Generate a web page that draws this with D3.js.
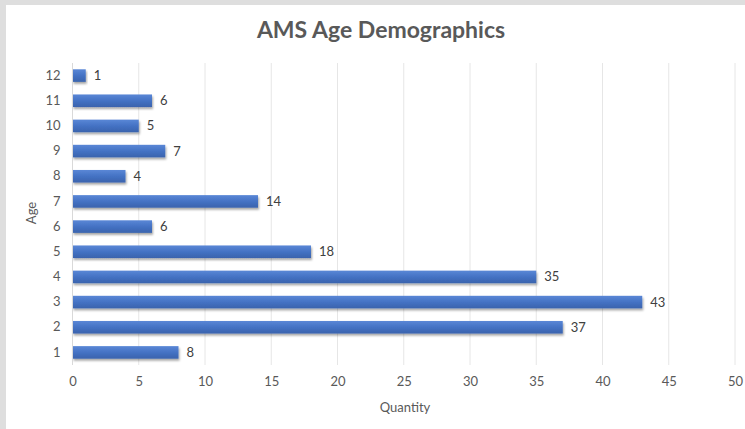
<!DOCTYPE html>
<html>
<head>
<meta charset="utf-8">
<script src="https://cdn.jsdelivr.net/npm/d3@7"></script>
<style>
  body { margin: 0; background: #dedede; }
  text { font-family: Lato, "Open Sans", sans-serif; }
</style>
</head>
<body>
<svg id="svg" width="745" height="429"></svg>
<script>
// chart data
var ages = ["1", "2", "3", "4", "5", "6", "7", "8", "9", "10", "11", "12"];
var quantities = [8, 37, 43, 35, 18, 6, 14, 4, 7, 5, 6, 1];
var xTicks = [0, 5, 10, 15, 20, 25, 30, 35, 40, 45, 50];

var svg = d3.select("#svg");
var width = 745, height = 429;
var margin = {top: 63, right: 10, bottom: 64, left: 72.5};
var textColor = "#595959";

// white chart area over grey frame
svg.append("rect")
    .attr("x", 6).attr("y", 5)
    .attr("width", width - 6).attr("height", height - 5)
    .attr("fill", "#ffffff");

var defs = svg.append("defs");
var grad = defs.append("linearGradient")
    .attr("id", "barGrad")
    .attr("x1", 0).attr("y1", 0).attr("x2", 0).attr("y2", 1);
grad.append("stop").attr("offset", "0%").attr("stop-color", "#5a87d6");
grad.append("stop").attr("offset", "50%").attr("stop-color", "#4472c4");
grad.append("stop").attr("offset", "100%").attr("stop-color", "#3a63ad");

var shadow = defs.append("filter").attr("id", "shadow")
    .attr("x", "-5%").attr("y", "-30%").attr("width", "115%").attr("height", "190%");
shadow.append("feDropShadow")
    .attr("dx", 1).attr("dy", 2).attr("stdDeviation", 1.2)
    .attr("flood-color", "#000").attr("flood-opacity", 0.35);

var x = d3.scaleLinear().domain([0, 50]).range([margin.left, 735]);
var y = d3.scaleBand().domain(ages.slice().reverse())
    .range([margin.top, height - margin.bottom]).paddingInner(0.5).paddingOuter(0.25);

// gridlines
svg.append("g").selectAll("line")
    .data(xTicks.slice(1))
    .enter().append("line")
    .attr("x1", function(d) { return x(d); })
    .attr("x2", function(d) { return x(d); })
    .attr("y1", margin.top)
    .attr("y2", height - margin.bottom)
    .attr("stroke", "#e6e6e6")
    .attr("stroke-width", 1);

// bars
svg.append("g").selectAll("rect")
    .data(ages)
    .enter().append("rect")
    .attr("x", x(0))
    .attr("y", function(d) { return y(d); })
    .attr("width", function(d, i) { return x(quantities[i]) - x(0); })
    .attr("height", y.bandwidth())
    .attr("fill", "url(#barGrad)")
    .attr("filter", "url(#shadow)");

// axis line at zero
svg.append("line")
    .attr("x1", x(0)).attr("x2", x(0))
    .attr("y1", margin.top).attr("y2", height - margin.bottom)
    .attr("stroke", "#d9d9d9");

// value labels
svg.append("g").selectAll("text")
    .data(ages)
    .enter().append("text")
    .attr("x", function(d, i) { return x(quantities[i]) + 8; })
    .attr("y", function(d) { return y(d) + y.bandwidth() / 2; })
    .attr("dy", "0.35em")
    .style("font-size", "13px")
    .attr("fill", "#404040")
    .text(function(d, i) { return quantities[i]; });

// y axis
var yAxis = svg.append("g")
    .attr("transform", "translate(" + x(0) + ",0)")
    .call(d3.axisLeft(y).tickSize(0).tickPadding(12));
yAxis.select(".domain").remove();
yAxis.selectAll("text").style("font-size", "13px").attr("fill", textColor);

// x axis
var xAxis = svg.append("g")
    .attr("transform", "translate(0," + (height - margin.bottom) + ")")
    .call(d3.axisBottom(x).tickValues(xTicks).tickSize(0).tickPadding(12));
xAxis.select(".domain").remove();
xAxis.selectAll("text").style("font-size", "13px").attr("fill", textColor);

// titles
svg.append("text")
    .attr("x", 381).attr("y", 38)
    .attr("text-anchor", "middle")
    .style("font-size", "23px")
    .style("font-weight", "bold")
    .attr("fill", textColor)
    .text("AMS Age Demographics");

svg.append("text")
    .attr("x", 405).attr("y", 412)
    .attr("text-anchor", "middle")
    .style("font-size", "13px")
    .attr("fill", textColor)
    .text("Quantity");

svg.append("text")
    .attr("transform", "translate(36,213)rotate(-90)")
    .attr("text-anchor", "middle")
    .style("font-size", "13px")
    .attr("fill", textColor)
    .text("Age");
</script>
</body>
</html>
